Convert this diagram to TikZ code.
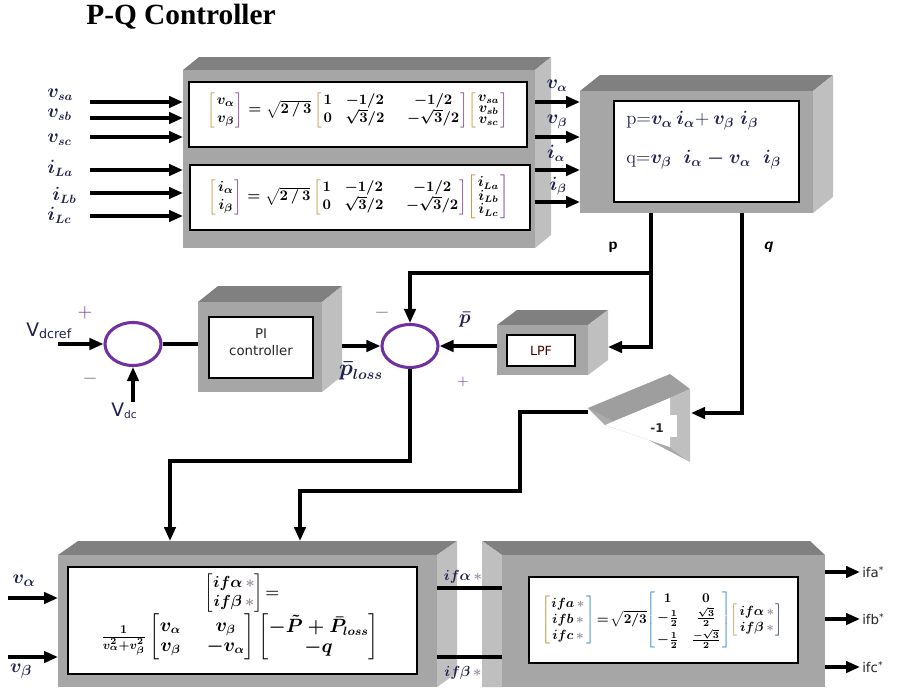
\documentclass[tikz,border=0pt]{standalone}
\usepackage{amsmath}
\usepackage{fontspec}
\newfontfamily\ttlfont{Liberation Serif}
\newfontfamily\sflfont{DejaVu Sans}
\usetikzlibrary{arrows.meta,shapes.geometric}
\definecolor{topg}{HTML}{808080}
\definecolor{frontg}{HTML}{A6A6A6}
\definecolor{sideg}{HTML}{BFBFBF}
\definecolor{sumc}{HTML}{7030A0}
\definecolor{txt}{HTML}{1F2050}
\definecolor{astc}{HTML}{9A8A9A}
\definecolor{brko}{HTML}{C8903A}
\definecolor{brkp}{HTML}{8040A0}
\definecolor{brkb}{HTML}{3A8AC8}
\newcommand{\threedbox}[7]{%
  \fill[topg] (#2,#3) -- (#2+#6,#3-#7) -- (#4+#6,#3-#7) -- (#4,#3) -- cycle;
  \fill[sideg] (#4,#3) -- (#4+#6,#3-#7) -- (#4+#6,#5-#7) -- (#4,#5) -- cycle;
  \node[frontbox, minimum width={(#4-#2)*0.75pt}, minimum height={(#5-#3)*0.75pt}] (#1) at (#2,#3) {};
}
\newcommand{\whitebox}[5]{%
  \node[inbox, minimum width={(#4-#2)*0.75pt}, minimum height={(#5-#3)*0.75pt}] (#1) at (#2,#3) {};
}
\newcommand{\stc}{\,{\color{astc}\ast}}
\newcommand{\bmth}[2]{{\fontsize{#1}{#1}\selectfont{\boldmath$#2$}}}
% coloured brackets: #1 left colour, #2 right colour, #3 content
\newcommand{\cbr}[3]{\mathopen{\color{#1}\left[\vphantom{#3}\right.}#3\mathclose{\color{#2}\left.\vphantom{#3}\right]}}
\newcommand{\tvec}[3]{\mbox{\fontsize{10.5}{10.5}\selectfont\boldmath$\cbr{brko}{brkp}{{\def\arraystretch{0.8}\begin{array}{@{}c@{}}#1\\ #2\\ #3\end{array}}}$}}
\newsavebox{\eqA}
\newsavebox{\eqB}
\newsavebox{\eqC}
\newsavebox{\eqD}
\newsavebox{\eqE}
\begin{document}
\sbox{\eqA}{\fontsize{11}{13}\selectfont\boldmath$\cbr{brko}{brkp}{\begin{matrix}v_\alpha\\ v_\beta\end{matrix}}=\sqrt{2\,/\,3}\,\cbr{brko}{brkp}{\begin{matrix}1 & -1/2 & \;\;-1/2\\ 0 & \sqrt{3}/2 & \;\;-\sqrt{3}/2\end{matrix}}\tvec{v_{sa}}{v_{sb}}{v_{sc}}$}%
\sbox{\eqB}{\fontsize{11}{13}\selectfont\boldmath$\cbr{brko}{brkp}{\begin{matrix}i_\alpha\\ i_\beta\end{matrix}}=\sqrt{2\,/\,3}\,\cbr{brko}{brkp}{\begin{matrix}1 & -1/2 & \;\;-1/2\\ 0 & \sqrt{3}/2 & \;\;-\sqrt{3}/2\end{matrix}}\tvec{i_{La}}{i_{Lb}}{i_{Lc}}$}%
\sbox{\eqC}{\fontsize{12}{14}\selectfont\boldmath$\left[\begin{matrix}if\alpha\stc\\ if\beta\stc\end{matrix}\right]\!=$}%
\sbox{\eqD}{\fontsize{13.5}{15}\selectfont\boldmath$\tfrac{1}{v_\alpha^2+v_\beta^2}\left[\begin{matrix}v_\alpha & \;\;v_\beta\\ v_\beta & \;\;-v_\alpha\end{matrix}\right]\left[\begin{matrix}-\tilde{P}+\bar{P}_{loss}\\ -q\end{matrix}\right]$}%
\sbox{\eqE}{\fontsize{10}{12}\selectfont\boldmath$\cbr{brko}{brkb}{\begin{matrix}ifa\stc\\ ifb\stc\\ ifc\stc\end{matrix}}\!=\!\sqrt{2/3}\cbr{brkb}{brkb}{\begin{matrix}1 & 0\\ -\frac{1}{2} & \frac{\sqrt{3}}{2}\\[2pt] -\frac{1}{2} & \frac{-\sqrt{3}}{2}\end{matrix}}\cbr{brko}{txt}{\begin{matrix}if\alpha\stc\\ if\beta\stc\end{matrix}}$}%
\begin{tikzpicture}[x=0.75pt,y=-0.75pt,
  frontbox/.style={fill=frontg, draw=none, inner sep=0, outer sep=0, anchor=north west},
  inbox/.style={fill=white, draw=black, line width=1.9pt, inner sep=0, outer sep=0, anchor=north west},
  arr/.style={line width=2.5pt, -{Triangle[length=10.5pt,width=8.5pt]}},
  ln/.style={line width=2.5pt},
  sumnode/.style={ellipse, draw=sumc, line width=2.3pt, minimum width={56*0.75pt}, minimum height={43*0.75pt}, inner sep=0},
  lbl/.style={text=txt, inner sep=0},
  sfl/.style={text=black!85, inner sep=0, font=\sflfont\fontsize{10}{12}\selectfont},
  sgn/.style={text=sumc, inner sep=0, font=\fontsize{14}{14}\selectfont},
]
\useasboundingbox (0,0) rectangle (897,689);
\fill[white] (0,0) rectangle (897,689);

% title
\node[inner sep=0] (title) at (181,17) {\ttlfont\bfseries\fontsize{22}{24}\selectfont P-Q Controller};

% ---------- block 1 ----------
\threedbox{B1}{183}{70}{535}{248}{16}{13}
\whitebox{W1a}{189}{82}{527}{147}
\whitebox{W1b}{190}{165}{530}{230}
\node[lbl] (eq1a) at (358,110) {\usebox{\eqA}};
\node[lbl] (eq1b) at (359,197) {\usebox{\eqB}};

% ---------- block 2 ----------
\threedbox{B2}{580}{91}{813}{213}{20}{16}
\whitebox{W2}{614}{101}{799}{202}
\node[lbl, anchor=west] (eqp) at (626,121) {\fontsize{14}{16}\selectfont p$=${\boldmath$v_\alpha\, i_\alpha$}$+${\boldmath$\,v_\beta\; i_\beta$}};
\node[lbl, anchor=west] (eqq) at (626,160) {\fontsize{14}{16}\selectfont q$=${\boldmath$v_\beta\;\; i_\alpha - v_\alpha\;\; i_\beta$}};

% ---------- PI ----------
\threedbox{PI}{198}{302}{322}{392}{20}{16}
\whitebox{WPI}{209}{317}{313}{378}
\node[sfl, align=center] (pitxt) at (261,342) {PI\\[1pt]controller};

% ---------- LPF ----------
\threedbox{LPF}{497}{325}{588}{375}{20}{15}
\whitebox{WLPF}{507}{335}{575}{366}
\node[sfl, text=black!70!red, font=\sflfont\fontsize{9.5}{11}\selectfont] (lpftxt) at (541,351) {LPF};

% ---------- gain triangle ----------
\fill[black!38] (588,408) -- (670,374) -- (690,389) -- (670,398) -- (605,425) -- cycle;
\fill[black!33] (588,408) -- (605,425) -- (670,447) -- (690,462) -- cycle;
\fill[sideg] (670,398) -- (690,389) -- (690,462) -- (670,447) -- cycle;
\fill[white] (605,425) -- (670,398) -- (670,447) -- cycle;
\fill[white] (669,415) rectangle (677,437);
\node[sfl, font=\sflfont\bfseries\fontsize{9}{10}\selectfont] (gaintxt) at (657,428) {-1};
\coordinate (trtip) at (588,412);
\coordinate (trin) at (691,413);

% ---------- sums ----------
\node[sumnode] (C1) at (133,344) {};
\node[sumnode] (C2) at (410,346) {};

% ---------- block 3 ----------
\threedbox{B3}{58}{555}{437}{687}{20}{14}
\whitebox{W3}{68}{567}{417}{674}
\node[lbl] (eq3a) at (242,593) {\usebox{\eqC}};
\node[lbl] (eq3b) at (240,637) {\usebox{\eqD}};

% ---------- block 4 ----------
\fill[topg] (482,541) -- (810,541) -- (825,555) -- (502,555) -- cycle;
\fill[sideg] (482,541) -- (502,555) -- (502,687) -- (482,687) -- cycle;
\node[frontbox, minimum width={323*0.75pt}, minimum height={132*0.75pt}] (B4) at (502,555) {};
\whitebox{W4}{529}{577}{798}{663}
\node[lbl] (eq4) at (662,620) {\usebox{\eqE}};

% ---------- connectors: block 1 inputs ----------
\foreach \yy/\nn in {102/a,118/b,137/c,170/d,193/e,216/f}{
  \coordinate (in\nn) at (90,\yy);
  \draw[arr] (in\nn) -- (in\nn -| B1.west);
}
\node[lbl, anchor=west] (lsa) at (47,95) {\bmth{13.5}{v_{sa}}};
\node[lbl, anchor=west] (lsb) at (47,115) {\bmth{13.5}{v_{sb}}};
\node[lbl, anchor=west] (lsc) at (47,140) {\bmth{13.5}{v_{sc}}};
\node[lbl, anchor=west] (lLa) at (47,168) {\bmth{13.5}{i_{La}}};
\node[lbl, anchor=west] (lLb) at (52,195) {\bmth{13.5}{i_{Lb}}};
\node[lbl, anchor=west] (lLc) at (47,215) {\bmth{13.5}{i_{Lc}}};

% ---------- block 1 -> block 2 ----------
\foreach \yy/\nn in {102/a,137/b,170/c,202/d}{
  \coordinate (o\nn) at (535,\yy);
  \draw[arr] (o\nn) -- (o\nn -| B2.west);
}
\node[lbl] (lva) at (557,86) {\bmth{13.5}{v_\alpha}};
\node[lbl] (lvb) at (557,122) {\bmth{13.5}{v_\beta}};
\node[lbl] (lia) at (556,153) {\bmth{13.5}{i_\alpha}};
\node[lbl] (lib) at (558,186) {\bmth{13.5}{i_\beta}};

% ---------- p and q ----------
\coordinate (pJ) at (651,273);
\coordinate (LPFe) at (608,347);
\draw[ln] (pJ |- B2.south) -- (pJ);
\draw[arr] (pJ) -| (C2.north);
\draw[arr] (pJ) |- (LPFe);
\coordinate (qJ) at (742,413);
\draw[arr] (qJ |- B2.south) |- (trin);
\node[inner sep=0, font=\sffamily\bfseries\fontsize{12}{13}\selectfont] (lp) at (613,247) {p};
\node[inner sep=0, font=\sffamily\bfseries\itshape\fontsize{12}{13}\selectfont] (lq) at (768,247) {q};

% ---------- DC loop ----------
\coordinate (vref) at (58,344);
\draw[arr] (vref) -- (C1.west);
\coordinate (vdc) at (133,402);
\draw[arr] (vdc) -- (C1.south);
\draw[ln] (C1.east) -- (C1.east -| PI.west);
\coordinate (PIe) at (342,346);
\draw[arr] (PIe) -- (C2.west);
\draw[arr] (C2.east -| LPF.west) -- (C2.east);
\node[inner sep=0, anchor=west, text=txt] (lvref) at (26,331) {\sflfont\fontsize{14}{15}\selectfont V\raisebox{-1.5pt}{\fontsize{9.5}{10}\selectfont dcref}};
\node[inner sep=0, text=txt] (lvdc) at (124,411) {\sflfont\fontsize{14}{15}\selectfont V\raisebox{-1.5pt}{\fontsize{8}{9}\selectfont dc}};
\node[sgn] (s1) at (85,313) {$+$};
\node[sgn, text=black!60] (s2) at (90,379) {$-$};
\node[sgn, text=black!60] (s3) at (382,313) {$-$};
\node[sgn, font=\fontsize{11}{11}\selectfont] (s4) at (463,382) {$+$};
\node[lbl] (lpbar) at (465,320) {\bmth{15}{\bar{p}}};
\node[lbl] (lploss) at (361,371) {\bmth{16}{\bar{p}_{loss}}};

% ---------- to block 3 ----------
\coordinate (d1) at (170,461);
\coordinate (B3t1) at (170,541);
\draw[arr] (C2.south) |- (d1) -- (B3t1);
\coordinate (e1) at (520,491);
\coordinate (B3t2) at (300,541);
\draw[arr] (trtip) -| (e1) -| (B3t2);

% ---------- block 3 inputs ----------
\coordinate (va) at (8,598);
\coordinate (vb) at (8,657);
\draw[arr] (va) -- (va -| B3.west);
\draw[arr] (vb) -- (vb -| B3.west);
\node[lbl] (lva3) at (24,581) {\bmth{15}{v_\alpha}};
\node[lbl] (lvb3) at (21,671) {\bmth{15}{v_\beta}};

% ---------- block 3 -> block 4 ----------
\coordinate (l1) at (437,588);
\coordinate (l2) at (437,657);
\draw[ln] (l1) -- (l1 -| B4.west);
\draw[ln] (l2) -- (l2 -| B4.west);
\node[lbl] (lfa) at (463,577) {\bmth{11}{if\alpha\stc}};
\node[lbl] (lfb) at (463,673) {\bmth{11}{if\beta\stc}};

% ---------- block 4 outputs ----------
\foreach \yy/\nn/\lt in {572/a/ifa,619/b/ifb,667/c/ifc}{
  \coordinate (oo\nn) at (860,\yy);
  \draw[arr] (oo\nn -| B4.east) -- (oo\nn);
  \node[sfl, anchor=west] (lo\nn) at (862,\yy) {\lt\raisebox{2.5pt}{\fontsize{7}{7}\selectfont *}};
}
\end{tikzpicture}
\end{document}
